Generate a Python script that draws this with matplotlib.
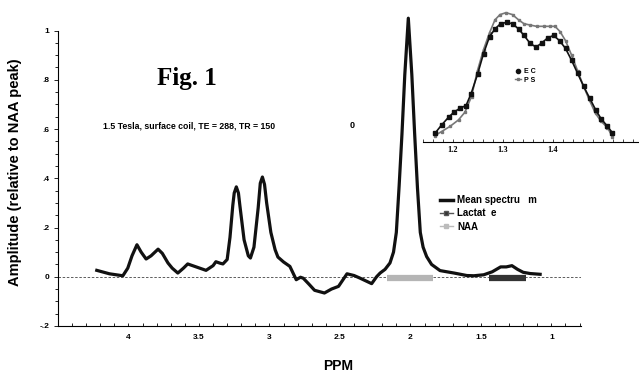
import matplotlib.pyplot as plt
from matplotlib.lines import Line2D

# ---------- Data ----------
ppm = [4.225, 4.135, 4.04, 4.005, 3.975, 3.94, 3.91, 3.875, 3.84, 3.79, 3.76, 3.72,
       3.69, 3.65, 3.61, 3.58, 3.52, 3.45, 3.40, 3.38, 3.35, 3.33, 3.30, 3.28, 3.26, 3.25,
       3.235, 3.22, 3.21, 3.18, 3.15, 3.135, 3.11, 3.08, 3.065, 3.05, 3.035, 3.02, 2.99, 2.96,
       2.94, 2.90, 2.855, 2.81, 2.78, 2.76, 2.72, 2.68, 2.61, 2.56, 2.51, 2.45, 2.40, 2.36,
       2.275, 2.24, 2.215, 2.18, 2.145, 2.12, 2.10, 2.08, 2.06, 2.04, 2.015, 1.99, 1.97,
       1.95, 1.93, 1.91, 1.885, 1.85, 1.79, 1.69, 1.60, 1.55, 1.48, 1.42, 1.36, 1.32, 1.28,
       1.24, 1.20, 1.15, 1.08]
amp = [0.026, 0.012, 0.004, 0.035, 0.085, 0.13, 0.10, 0.072, 0.085, 0.112, 0.095, 0.056,
       0.035, 0.015, 0.035, 0.052, 0.04, 0.026, 0.045, 0.061, 0.055, 0.052, 0.07, 0.16, 0.29, 0.34,
       0.365, 0.34, 0.29, 0.15, 0.085, 0.076, 0.12, 0.28, 0.38, 0.405, 0.375, 0.30, 0.18, 0.11,
       0.08, 0.06, 0.042, -0.012, -0.002, -0.006, -0.03, -0.055, -0.066, -0.05, -0.039, 0.012,
       0.005, -0.005,
       -0.028, 0.0, 0.015, 0.03, 0.056, 0.10, 0.18, 0.37, 0.58, 0.82, 1.05, 0.82, 0.58,
       0.36, 0.18, 0.12, 0.082, 0.05, 0.025, 0.015, 0.005, 0.004, 0.008, 0.02, 0.04, 0.04, 0.045,
       0.03, 0.018, 0.013, 0.01]

naa_range = [2.165, 1.84]
lac_range = [1.44, 1.18]

xticks = [4, 3.5, 3, 2.5, 2, 1.5, 1]
xtick_labels = ['4', '3.5', '3', '2.5', '2', '1.5', '1']
yticks = [-0.2, 0, 0.2, 0.4, 0.6, 0.8, 1.0]
ytick_labels = ['-.2', '0', '.2', '.4', '.6', '.8', '1']

# inset: lactate region, two techniques
ec_ppm = [1.164, 1.177, 1.191, 1.202, 1.214, 1.226, 1.236, 1.249, 1.261, 1.273, 1.284,
          1.295, 1.307, 1.319, 1.331, 1.342, 1.354, 1.366, 1.377, 1.389, 1.401, 1.413,
          1.425, 1.437, 1.449, 1.461, 1.473, 1.485, 1.496, 1.509, 1.519]
ec_val = [6.7, 13, 19, 23, 26, 28, 37, 52, 68, 81, 87, 91, 92, 91, 87, 82, 76, 73, 76,
          80, 82, 78, 72, 63, 53, 43, 34, 25, 18, 12, 7]
ps_ppm = [1.164, 1.177, 1.194, 1.211, 1.224, 1.237, 1.249, 1.261, 1.273, 1.284, 1.294,
          1.306, 1.319, 1.331, 1.342, 1.354, 1.367, 1.381, 1.394, 1.404, 1.414, 1.425,
          1.437, 1.449, 1.461, 1.473, 1.485, 1.496, 1.509, 1.519]
ps_val = [5, 8, 12, 17, 23, 35, 55, 71, 84, 94, 98, 99.5, 98, 94, 91, 90, 89, 89, 89,
          89, 85, 78, 67, 55, 43, 32, 22, 16, 11, 4]
inset_ticks = [1.2, 1.3, 1.4]

# ---------- Figure ----------
W, H = 639, 373
fig = plt.figure(figsize=(W / 100, H / 100), dpi=100)
sans = 'Liberation Sans'
serif = 'Liberation Serif'

ax = fig.add_axes([58 / W, 1 - 326 / H, (581 - 58) / W, (326 - 30.5) / H])
ax.plot(ppm, amp, color='#111111', lw=2.3, clip_on=False, solid_joinstyle='round', zorder=3)
ax.axhline(0, color='#444444', lw=0.6, ls=(0, (3, 2)), zorder=1)
ax.plot(naa_range, [-0.004, -0.004], color='#b5b5b5', lw=4.5, solid_capstyle='butt', zorder=2)
ax.plot(lac_range, [-0.004, -0.004], color='#333333', lw=4.5, solid_capstyle='butt', zorder=2)

ax.set_xlim(4.5, 0.79)
ax.set_ylim(-0.2, 1.0)
ax.spines['top'].set_visible(False)
ax.spines['right'].set_visible(False)
ax.spines['left'].set_linewidth(0.8)
ax.spines['bottom'].set_linewidth(0.8)
ax.set_xticks(xticks)
ax.set_xticklabels(xtick_labels, fontsize=6, fontweight='bold', family=sans)
ax.set_yticks(yticks)
ax.set_yticklabels(ytick_labels, fontsize=6, fontweight='bold', family=sans)
ax.set_xticks([x / 10 for x in range(8, 46)], minor=True)
ax.set_yticks([y / 100 for y in range(-20, 101, 5)], minor=True)
ax.tick_params(axis='x', which='both', direction='in', length=2.5, width=0.6, pad=6)
ax.tick_params(axis='y', which='major', direction='out', length=3, width=0.6, pad=3)
ax.tick_params(axis='y', which='minor', direction='out', length=2, width=0.6)

fig.text(15 / W, 1 - 172 / H, 'Amplitude (relative to NAA peak)', rotation=90,
         ha='center', va='center', fontsize=10.5, fontweight='bold', family=sans)
fig.text(338 / W, 1 - 366 / H, 'PPM', ha='center', va='center',
         fontsize=10, fontweight='bold', family=sans)
fig.text(157 / W, 1 - 78 / H, 'Fig. 1', ha='left', va='center',
         fontsize=18, fontweight='bold', family=serif)
fig.text(103 / W, 1 - 126 / H, '1.5 Tesla, surface coil, TE = 288, TR = 150',
         ha='left', va='center', fontsize=6.3, fontweight='bold', family=sans)
fig.text(352 / W, 1 - 126 / H, '0', ha='center', va='center',
         fontsize=6.5, fontweight='bold', family=sans)

handles = [Line2D([], [], color='#111111', lw=2.5),
           Line2D([], [], color='#555555', lw=1, marker='s', ms=3, markerfacecolor='#333333'),
           Line2D([], [], color='#bbbbbb', lw=1, marker='s', ms=3, markerfacecolor='#bbbbbb')]
labels = ['Mean spectru   m', 'Lactat  e', 'NAA']
ax.legend(handles, labels, loc='upper left', bbox_to_anchor=(440 / W, 1 - 195 / H),
          bbox_transform=fig.transFigure, frameon=False, borderpad=0, borderaxespad=0,
          handlelength=1.3, handletextpad=0.5, labelspacing=0.35,
          prop={'family': sans, 'weight': 'bold', 'size': 7})

# ---------- Inset ----------
ins = fig.add_axes([423 / W, 1 - 142 / H, (638 - 423) / W, 137 / H])
ins.patch.set_alpha(0)
ins.plot(ps_ppm, ps_val, color='#777777', lw=1.2, marker='s', ms=1.6, label='P S')
ins.plot(ec_ppm, ec_val, color='#111111', lw=1.2, marker='s', ms=2.4, label='E C')
ins.set_xlim(1.14, 1.57)
ins.set_ylim(0, 105.4)
for s in ['top', 'right', 'left']:
    ins.spines[s].set_visible(False)
ins.spines['bottom'].set_linewidth(0.8)
ins.set_yticks([])
ins.set_xticks(inset_ticks)
ins.set_xticklabels(['1.2', '1.3', '1.4'], fontsize=6, fontweight='bold', family=serif)
ins.set_xticks([x / 100 for x in range(114, 158, 2)], minor=True)
ins.tick_params(axis='x', which='both', direction='in', length=2, width=0.5, pad=3)
ih = [Line2D([], [], color='#111111', lw=0, marker='o', ms=3),
      Line2D([], [], color='#777777', lw=1, marker='s', ms=1.8)]
ins.legend(ih, ['E C', 'P S'], loc='upper left', bbox_to_anchor=(515 / W, 1 - 68 / H),
           bbox_transform=fig.transFigure, frameon=False, borderpad=0, borderaxespad=0,
           handlelength=0.9, handletextpad=0.4, labelspacing=0.25,
           prop={'family': sans, 'weight': 'bold', 'size': 5})

fig.savefig('out.png', dpi=100)
